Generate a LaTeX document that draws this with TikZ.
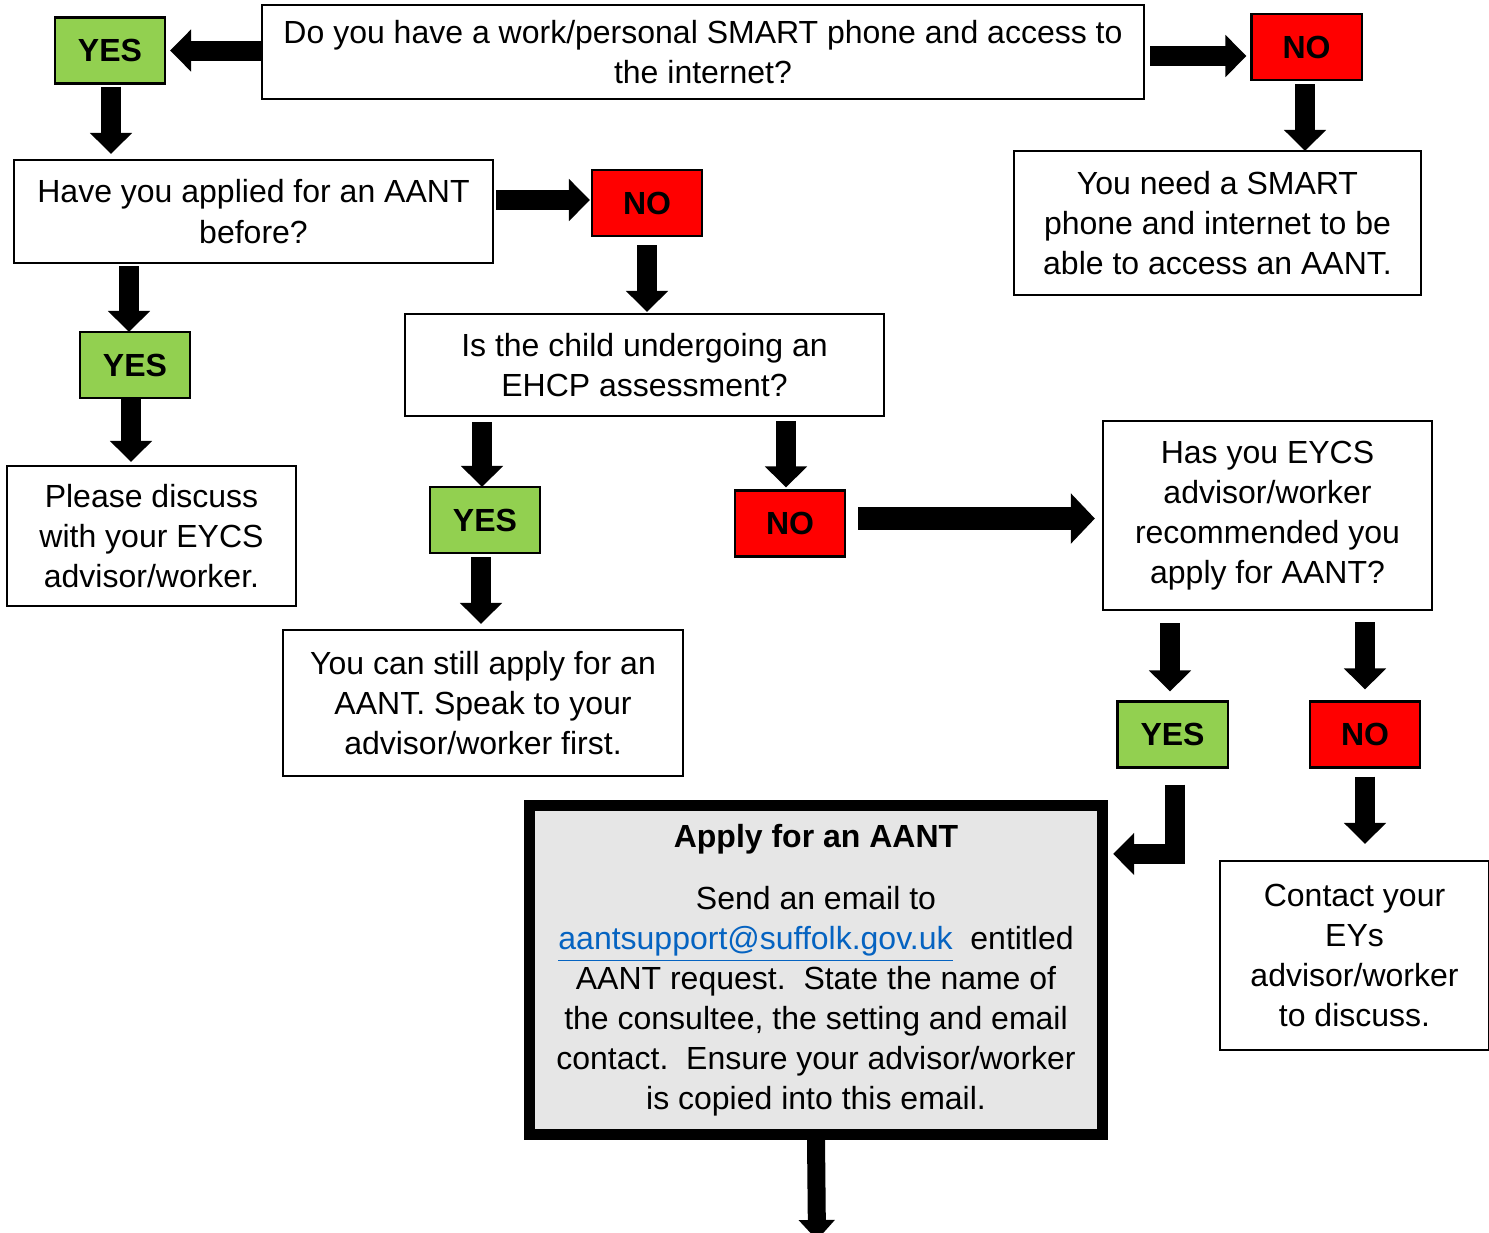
\documentclass[tikz,border=0pt]{standalone}
\usepackage{fontspec}
\setmainfont{Liberation Sans}
\usetikzlibrary{arrows.meta,calc}
\definecolor{yesgreen}{HTML}{92D050}
\definecolor{nored}{HTML}{FF0000}
\definecolor{applygray}{HTML}{E6E6E6}
\definecolor{linkblue}{HTML}{0563C1}
\def\txtsize{\fontsize{9.1}{11.4}\selectfont}
\tikzset{
	box/.style={draw, line width=0.6pt, fill=white, align=center, inner sep=0pt, font=\txtsize},
	yesbox/.style={draw, line width=0.6pt, fill=yesgreen, inner sep=0pt, minimum width=1.1cm, minimum height=0.66cm, font=\txtsize\bfseries},
	nobox/.style={yesbox, fill=nored},
	blockarrow/.style={line width=0.2cm, -{Triangle[width=0.41cm,length=0.21cm]}},
	bigarrow/.style={line width=0.23cm, -{Triangle[width=0.49cm,length=0.24cm]}},
}

\begin{document}
\begin{tikzpicture}[x=0.01cm, y=-0.01cm]
		%%%%% START %%%%%
		\useasboundingbox (0, 0) rectangle (1489, 1232);
		
		% question boxes
		\node[box, minimum width=8.82cm, minimum height=0.94cm] (q1) at (703, 52) {Do you have a work/personal SMART phone and access to\\the internet?};
		\node[box, minimum width=4.07cm, minimum height=1.44cm] (need) at (1217.5, 223) {You need a SMART\\phone and internet to be\\able to access an AANT.};
		\node[box, minimum width=4.79cm, minimum height=1.03cm] (q2) at (253.5, 211.5) {Have you applied for an AANT\\before?};
		\node[box, minimum width=4.79cm, minimum height=1.02cm] (q3) at (644.5, 365) {Is the child undergoing an\\EHCP assessment?};
		\node[box, minimum width=2.89cm, minimum height=1.40cm] (discuss) at (151.5, 536) {Please discuss\\with your EYCS\\advisor/worker.};
		\node[box, minimum width=4.00cm, minimum height=1.46cm] (still) at (483, 703) {You can still apply for an\\AANT. Speak to your\\advisor/worker first.};
		\node[box, minimum width=3.29cm, minimum height=1.89cm] (q4) at (1267.5, 515.5) {Has you EYCS\\advisor/worker\\recommended you\\apply for AANT?};
		\node[box, minimum width=2.69cm, minimum height=1.89cm] (contact) at (1354.5, 955.5) {Contact your\\EYs\\advisor/worker\\to discuss.};
		
		% yes / no
		\node[yesbox] (yes1) at (110, 50.5) {YES};
		\node[nobox] (no1) at (1306.5, 47) {NO};
		\node[nobox] (no2) at (647, 203) {NO};
		\node[yesbox] (yes2) at (135, 365) {YES};
		\node[yesbox] (yes3) at (485, 520) {YES};
		\node[nobox] (no3) at (790, 523.5) {NO};
		\node[yesbox] (yes4) at (1172.5, 734.5) {YES};
		\node[nobox] (no4) at (1365, 734.5) {NO};
		
		% apply box
		\node[box, line width=0.11cm, fill=applygray, minimum width=5.73cm, minimum height=3.29cm] (apply) at (816, 970) {\textbf{Apply for an AANT}\\[0.22cm]
			Send an email to\\
			{\color{linkblue}\underline{aantsupport@suffolk.gov.uk}}\ \ entitled\\
			AANT request.\ \ State the name of\\
			the consultee, the setting and email\\
			contact.\ \ Ensure your advisor/worker\\
			is copied into this email.};
		\coordinate (next) at (817, 1240);
		
		% arrows
		\draw[blockarrow] (q1.west |- yes1) -- ($(yes1.east)+(4, 0)$);
		\draw[blockarrow] ($(q1.east)+(5, 4)$) -- ($(q1.east -| no1.west)+(-4, 4)$);
		\draw[blockarrow] ($(yes1.south)+(1, 2)$) -- ($(yes1.south |- q2.north)+(1, -5)$);
		\draw[blockarrow] ($(no1.south)+(-1.5, 3)$) -- ($(no1.south |- need.north)+(-1.5, 1)$);
		
		\draw[blockarrow] ($(q2.east |- no2.west)+(2, -3)$) -- ($(no2.west)+(-1, -3)$);
		\draw[blockarrow] ($(no2.south)+(0, 8)$) -- ($(no2.south |- q3.north)+(0, -1)$);
		\draw[blockarrow] ($(yes2.north |- q2.south)+(-6, 2)$) -- ($(yes2.north)+(-6, 1)$);
		\draw[blockarrow] ($(yes2.south)+(-4, 0)$) -- ($(yes2.south |- discuss.north)+(-4, -3)$);
		
		\draw[blockarrow] ($(yes3.north |- q3.south)+(-3, 5)$) -- ($(yes3.north)+(-3, 1)$);
		\draw[blockarrow] ($(yes3.south)+(-4, 3)$) -- ($(yes3.south |- still.north)+(-4, -5)$);
		\draw[blockarrow] ($(no3.north |- q3.south)+(-4, 4)$) -- ($(no3.north)+(-4, -2)$);
		\draw[bigarrow] ($(no3.east)+(12, -5)$) -- ($(no3.east -| q4.west)+(-7, -5)$);
		
		\draw[blockarrow] ($(yes4.north |- q4.south)+(-2.5, 12)$) -- ($(yes4.north)+(-2.5, -9)$);
		\draw[blockarrow] ($(no4.north |- q4.south)+(0, 11)$) -- ($(no4.north)+(0, -11)$);
		\draw[blockarrow] ($(no4.south)+(0, 8)$) -- ($(no4.south |- contact.north)+(0, -16)$);
		\draw[blockarrow, line join=miter] ($(yes4.south)+(2.5, 16)$) |- ($(apply.north east)+(5, 54)$);
		\draw[line width=0.18cm, -{Triangle[width=0.35cm,length=0.2cm]}] (apply.south) -- (next);
		%%%%% END %%%%%
	\end{tikzpicture}
\end{document}
